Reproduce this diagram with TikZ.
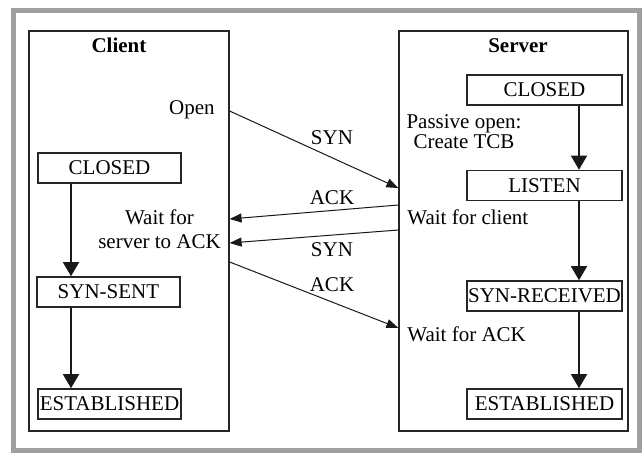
\documentclass[tikz,border=0pt]{standalone}
\usepackage{fontspec}
\setmainfont{Liberation Serif}
\usetikzlibrary{arrows.meta}

\tikzset{
  host/.style={draw=black!85, line width=0.6pt, inner sep=0pt},
  state/.style={draw=black!85, line width=0.75pt, minimum height=15pt, inner sep=0pt,
    font=\fontsize{10.5}{12}\selectfont},
  cstate/.style={state, minimum width=71.5pt},
  sstate/.style={state, minimum width=77.5pt},
  note/.style={inner sep=0pt, font=\fontsize{10.5}{12}\selectfont},
  msg/.style={-{Triangle[length=6pt,width=4.5pt]}, line width=0.5pt, black!90},
  trans/.style={-{Triangle[length=7pt,width=8pt]}, line width=0.6pt, black!90},
}

\begin{document}
\begin{tikzpicture}[x=0.5pt,y=-0.5pt]
  \useasboundingbox (0,0) rectangle (643,453);
  \draw[gray!75, line width=2.5pt] (13.5,10.5) rectangle (639.5,450.5);

  % hosts
  \node[host, minimum width=100pt, minimum height=200pt] (client) at (129,231) {};
  \node[host, minimum width=114.5pt, minimum height=200pt] (server) at (513.5,231) {};
  \node[note, anchor=base, font=\fontsize{10.5}{12}\selectfont\bfseries] (ctitle) at (119,53) {Client};
  \node[note, anchor=base, font=\fontsize{10.5}{12}\selectfont\bfseries] (stitle) at (518,53) {Server};

  % client states
  \node[cstate] (cclosed) at (109.5,168) {CLOSED};
  \node[cstate] (csynsent) at (108.5,292) {SYN-SENT};
  \node[cstate] (cest) at (109.5,404) {ESTABLISHED};

  % server states
  \node[sstate] (sclosed) at (544.5,90) {CLOSED};
  \node[sstate] (slisten) at (544.5,185.5) {LISTEN};
  \node[sstate] (ssynrcvd) at (544.5,296) {SYN-RECEIVED};
  \node[sstate] (sest) at (544.5,404) {ESTABLISHED};

  \coordinate (cx) at (71,0);
  \coordinate (sx) at (579,0);
  \draw[trans] (cclosed.south -| cx) -- (csynsent.north -| cx);
  \draw[trans] (csynsent.south -| cx) -- (cest.north -| cx);
  \draw[trans] (sclosed.south -| sx) -- (slisten.north -| sx);
  \draw[trans] (slisten.south -| sx) -- (ssynrcvd.north -| sx);
  \draw[trans] (ssynrcvd.south -| sx) -- (sest.north -| sx);

  % notes
  \node[note, anchor=base east] (open) at (215,115) {Open};
  \node[note, align=center] (cwait) at (159.5,229) {Wait for\\server to ACK};
  \node[note, align=center] (passive) at (464,132) {Passive open:\\[-2pt]Create TCB};
  \node[note, anchor=base west] (swaitc) at (407,225) {Wait for client};
  \node[note, anchor=base west] (swaita) at (407,342) {Wait for ACK};

  % messages
  \coordinate (c1) at (client.east |- 0,111);
  \coordinate (c2) at (client.east |- 0,219);
  \coordinate (c3) at (client.east |- 0,243);
  \coordinate (c4) at (client.east |- 0,262);
  \coordinate (s1) at (server.west |- 0,188);
  \coordinate (s2) at (server.west |- 0,205);
  \coordinate (s3) at (server.west |- 0,230);
  \coordinate (s4) at (server.west |- 0,328);
  \draw[msg] (c1) -- (s1);
  \draw[msg] (s2) -- (c2);
  \draw[msg] (s3) -- (c3);
  \draw[msg] (c4) -- (s4);
  \node[note, anchor=base] (syn1) at (332,145) {SYN};
  \node[note, anchor=base] (ack1) at (332,205) {ACK};
  \node[note, anchor=base] (syn2) at (332,257) {SYN};
  \node[note, anchor=base] (ack2) at (332,292) {ACK};
\end{tikzpicture}
\end{document}
